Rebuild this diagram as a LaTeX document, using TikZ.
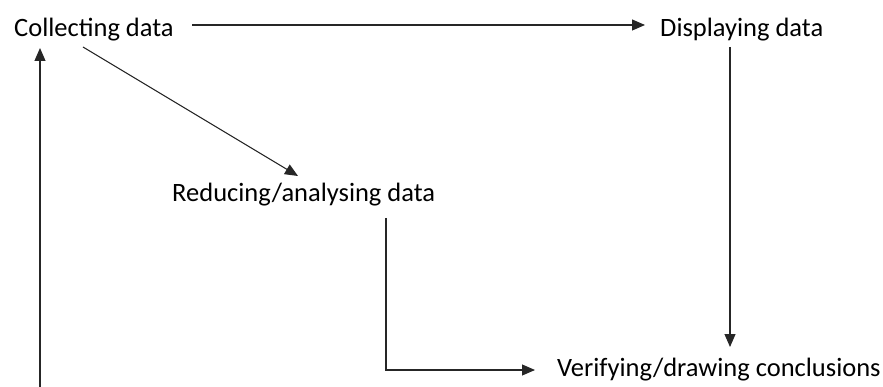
\documentclass[tikz,border=0pt]{standalone}
\usepackage{fontspec}
\setmainfont{Carlito}
\usetikzlibrary{arrows.meta,calc}
\begin{document}
\begin{tikzpicture}[x=1pt,y=-1pt,
  lbl/.style={inner sep=0pt, anchor=west, font=\fontsize{26.5}{30}\selectfont, text=black},
  arr/.style={draw=black!85, line width=1.1pt, -{Triangle[length=13pt,width=11pt]}}]
\useasboundingbox (0,0) rectangle (883,387);
\node[lbl] (collect) at (14,30) {Collecting data};
\node[lbl] (display) at (660,30) {Displaying data};
\node[lbl] (reduce) at (172,195) {Reducing/analysing data};
\node[lbl] (verify) at (557,370) {Verifying/drawing conclusions};
\coordinate (bottom) at (40,387);
% collecting -> displaying
\draw[arr] ($(collect.west)+(178,-5)$) -- ($(display.west)+(-15,-5)$);
% collecting -> reducing
\draw[arr] ($(collect.west)+(69,17)$) -- ($(reduce.west)+(126,-19)$);
% displaying -> verifying
\draw[arr] ($(display.west)+(70,17)$) -- ($(verify.west)+(173,-23)$);
% reducing -> verifying
\draw[arr] ($(reduce.west)+(214,23)$) |- ($(verify.west)+(-22,0)$);
% loop back up to collecting
\draw[arr] (bottom) -- ($(collect.west)+(26,18)$);
\end{tikzpicture}
\end{document}
